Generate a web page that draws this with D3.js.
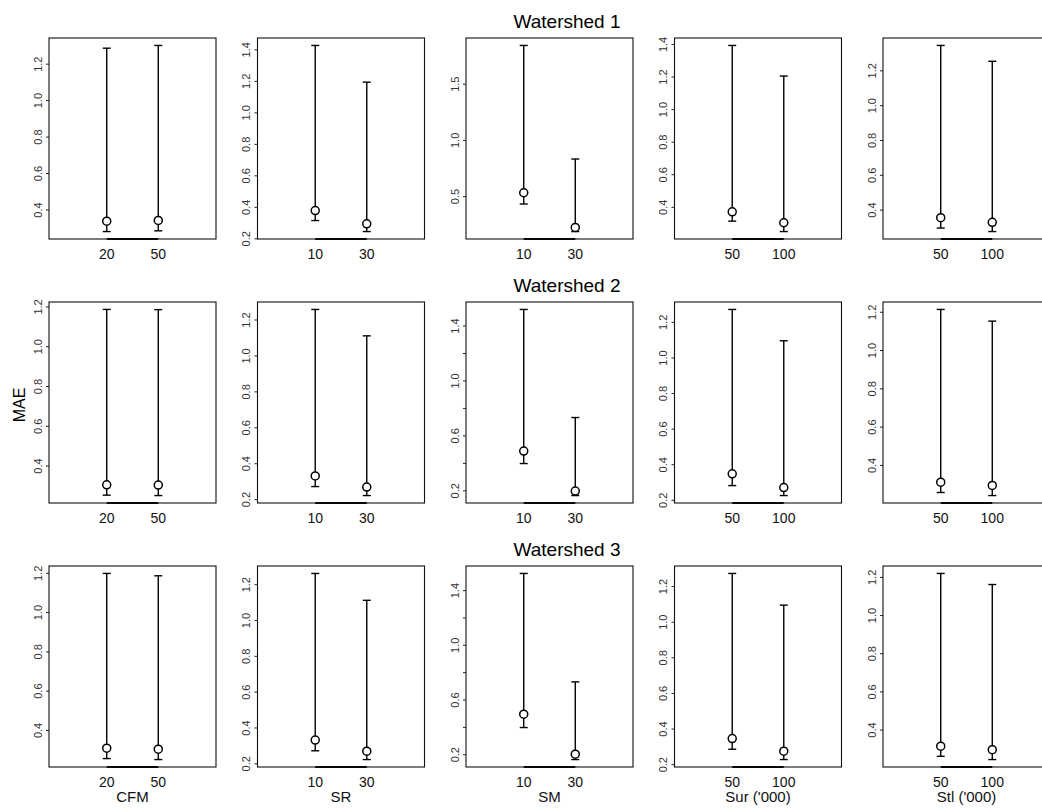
<!DOCTYPE html>
<html>
<head>
<meta charset="utf-8">
<script src="https://cdn.jsdelivr.net/npm/d3@7/dist/d3.min.js"></script>
<style>
  body { margin: 0; background: #fff; }
  svg { display: block; font-family: "Liberation Sans", Arial, Helvetica, sans-serif; }
</style>
</head>
<body>
<svg></svg>
<script>
// data ------------------------------------------------------------
const watersheds = ["Watershed 1", "Watershed 2", "Watershed 3"];
const factors = ["CFM", "SR", "SM", "Sur ('000)", "Stl ('000)"];
const levels = [["20", "50"], ["10", "30"], ["10", "30"], ["50", "100"], ["50", "100"]];

// one row per watershed, [factor][level]
const means = [
  [[0.336, 0.340], [0.376, 0.292], [0.530, 0.222], [0.369, 0.302], [0.354, 0.327]],
  [[0.303, 0.302], [0.329, 0.267], [0.486, 0.195], [0.346, 0.269], [0.310, 0.293]],
  [[0.307, 0.302], [0.330, 0.268], [0.493, 0.200], [0.344, 0.273], [0.313, 0.295]]
];
const lows = [
  [[0.279, 0.283], [0.313, 0.243], [0.430, 0.185], [0.312, 0.248], [0.294, 0.274]],
  [[0.251, 0.249], [0.270, 0.220], [0.395, 0.162], [0.280, 0.224], [0.256, 0.240]],
  [[0.254, 0.249], [0.270, 0.221], [0.395, 0.161], [0.284, 0.226], [0.260, 0.243]]
];
const highs = [
  [[1.285, 1.300], [1.425, 1.192], [1.840, 0.830], [1.391, 1.203], [1.343, 1.252]],
  [[1.185, 1.184], [1.256, 1.109], [1.517, 0.730], [1.270, 1.094], [1.212, 1.151]],
  [[1.197, 1.185], [1.260, 1.110], [1.522, 0.729], [1.271, 1.093], [1.218, 1.160]]
];

// y tick values per panel (R "pretty" style)
const yTicks = [
  [[0.4, 0.6, 0.8, 1.0, 1.2], [0.2, 0.4, 0.6, 0.8, 1.0, 1.2, 1.4], [0.5, 1.0, 1.5], [0.4, 0.6, 0.8, 1.0, 1.2, 1.4], [0.4, 0.6, 0.8, 1.0, 1.2]],
  [[0.4, 0.6, 0.8, 1.0, 1.2], [0.2, 0.4, 0.6, 0.8, 1.0, 1.2], [0.2, 0.4, 0.6, 0.8, 1.0, 1.2, 1.4], [0.2, 0.4, 0.6, 0.8, 1.0, 1.2], [0.4, 0.6, 0.8, 1.0, 1.2]],
  [[0.4, 0.6, 0.8, 1.0, 1.2], [0.2, 0.4, 0.6, 0.8, 1.0, 1.2], [0.2, 0.4, 0.6, 0.8, 1.0, 1.2, 1.4], [0.2, 0.4, 0.6, 0.8, 1.0, 1.2], [0.4, 0.6, 0.8, 1.0, 1.2]]
];

// layout ----------------------------------------------------------
const width = 1042;
const height = 811;
const pw = 167, ph = 201;
const firstLeft = 49, colStep = 208.5;
const firstTop = 38, rowStep = 264;
const titleX = 567;

const svg = d3.select("svg")
    .attr("width", width)
    .attr("height", height);

const fmt = d3.format(".1f");

watersheds.forEach((ws, r) => {
    const top = firstTop + r * rowStep;

    svg.append("text")
        .attr("x", titleX)
        .attr("y", top - 10)
        .attr("text-anchor", "middle")
        .attr("font-size", 19)
        .attr("fill", "#000")
        .text(ws);

    factors.forEach((f, c) => {
        const left = firstLeft + c * colStep;
        const g = svg.append("g").attr("transform", `translate(${left},${top})`);

        const lo = lows[r][c], hi = highs[r][c], mn = means[r][c];
        const ymin = d3.min(lo), ymax = d3.max(hi);
        const pad = (ymax - ymin) * 0.04;
        const y = d3.scaleLinear().domain([ymin - pad, ymax + pad]).range([ph, 0]);
        const x = d3.scaleLinear().domain([-0.12, 3.12]).range([0, pw]);

        // y axis, labels rotated like base R, skip ones that would crowd
        const ticks = yTicks[r][c];
        let lastY = null;
        const shown = new Set();
        ticks.forEach(t => {
            const py = y(t);
            if (lastY === null || Math.abs(lastY - py) > 29) {
                shown.add(t);
                lastY = py;
            }
        });

        const ax = g.append("g")
            .call(d3.axisLeft(y).tickValues(ticks).tickSize(3).tickFormat(d => shown.has(d) ? fmt(d) : ""));
        ax.attr("font-family", null).attr("font-size", null);
        ax.select(".domain").remove();
        ax.selectAll(".tick line").attr("stroke", "#222");
        ax.selectAll(".tick text")
            .attr("transform", "rotate(-90)")
            .attr("x", 0)
            .attr("y", -7.5)
            .attr("dy", null)
            .attr("text-anchor", "middle")
            .attr("font-size", 11)
            .attr("fill", "#333");

        // x axis: line between first and last level, labels under
        g.append("line")
            .attr("x1", x(1)).attr("x2", x(levels[c].length))
            .attr("y1", ph).attr("y2", ph)
            .attr("stroke", "#000")
            .attr("stroke-width", 2.2);

        g.selectAll(".xlab")
            .data(levels[c])
            .enter().append("text")
            .attr("class", "xlab")
            .attr("x", (d, i) => x(i + 1))
            .attr("y", ph + 20)
            .attr("text-anchor", "middle")
            .attr("font-size", 14)
            .attr("fill", "#111")
            .text(d => d);

        if (r === watersheds.length - 1) {
            g.append("text")
                .attr("x", pw / 2)
                .attr("y", ph + 35)
                .attr("text-anchor", "middle")
                .attr("font-size", 15)
                .attr("fill", "#111")
                .text(f);
        }

        // error bars
        const bars = g.selectAll(".bar")
            .data(levels[c].map((d, i) => ({i: i + 1, lo: lo[i], hi: hi[i], mn: mn[i]})))
            .enter().append("g")
            .attr("class", "bar")
            .attr("stroke", "#000")
            .attr("stroke-width", 1.4);

        bars.append("line")
            .attr("x1", d => x(d.i)).attr("x2", d => x(d.i))
            .attr("y1", d => y(d.lo)).attr("y2", d => y(d.hi));
        bars.append("line")
            .attr("x1", d => x(d.i) - 4).attr("x2", d => x(d.i) + 4)
            .attr("y1", d => y(d.hi)).attr("y2", d => y(d.hi));
        bars.append("line")
            .attr("x1", d => x(d.i) - 4).attr("x2", d => x(d.i) + 4)
            .attr("y1", d => y(d.lo)).attr("y2", d => y(d.lo));
        bars.append("circle")
            .attr("cx", d => x(d.i))
            .attr("cy", d => y(d.mn))
            .attr("r", 4)
            .attr("fill", "#fff")
            .attr("stroke-width", 1.5);

        // box
        g.append("rect")
            .attr("width", pw)
            .attr("height", ph)
            .attr("fill", "none")
            .attr("stroke", "#111")
            .attr("stroke-width", 1.1);
    });
});

svg.append("text")
    .attr("transform", "translate(19,405) rotate(-90)")
    .attr("dy", "0.35em")
    .attr("text-anchor", "middle")
    .attr("font-size", 16)
    .attr("fill", "#000")
    .text("MAE");
</script>
</body>
</html>
